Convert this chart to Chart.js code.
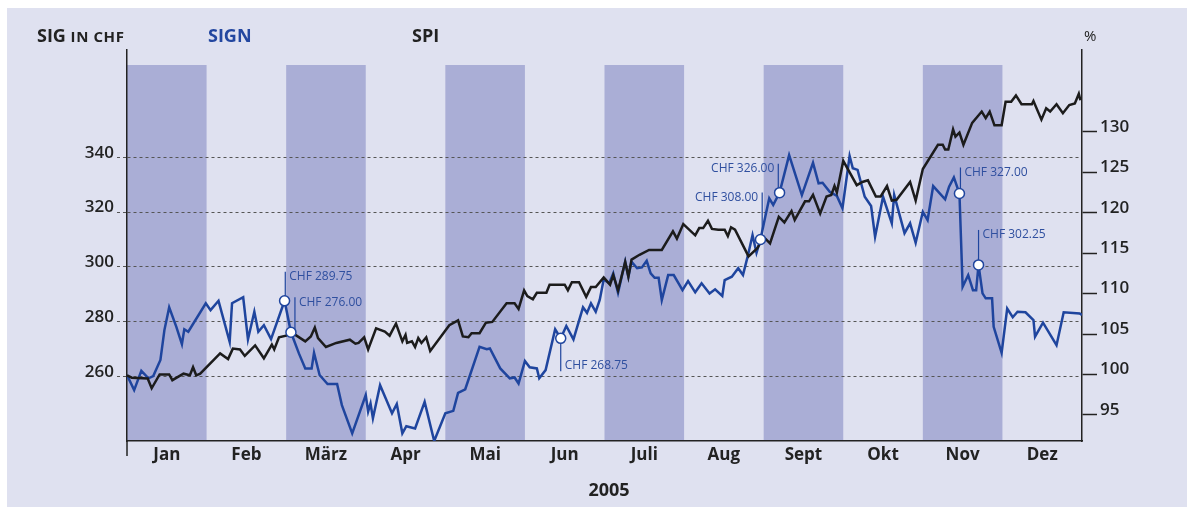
<!DOCTYPE html>
<html>
<head>
<meta charset="utf-8">
<script src="https://cdn.jsdelivr.net/npm/chart.js@4"></script>
<style>
  html, body { margin: 0; padding: 0; background: #fff; }
  #wrap { position: relative; width: 1187px; height: 507px; }
  #chart { position: absolute; left: 0; top: 0; }
  .lbl { position: absolute; font-family: "Open Sans", sans-serif; font-weight: 700; color: #222; white-space: nowrap; line-height: 1; }
</style>
</head>
<body>
<div id="wrap">
  <canvas id="chart" width="1187" height="507"></canvas>
  <div class="lbl" style="left:37px; top:26px; font-size:18px;">SIG <span style="font-size:15px; letter-spacing:0.6px">IN CHF</span></div>
  <div class="lbl" style="left:208px; top:26px; font-size:18px; color:#2347a0;">SIGN</div>
  <div class="lbl" style="left:412px; top:26px; font-size:18px;">SPI</div>
  <div class="lbl" style="left:1084px; top:28px; font-size:15px; font-weight:400;">%</div>
  <div class="lbl" style="left:609px; top:480px; font-size:18px; transform:translateX(-50%);">2005</div>
</div>
<script>
// months on the x axis (value = month index, label centred in the month)
const months = ["Jan", "Feb", "März", "Apr", "Mai", "Jun", "Juli", "Aug", "Sept", "Okt", "Nov", "Dez"];
const chfTicks = [260, 280, 300, 320, 340];
const pctTicks = [95, 100, 105, 110, 115, 120, 125, 130];

// SIGN share price in CHF (left axis), x in months since 1 Jan
const signMonth = [0.00, 0.09, 0.18, 0.27, 0.33, 0.42, 0.47, 0.53, 0.62, 0.69, 0.72, 0.77, 0.99, 1.05, 1.15, 1.29, 1.32, 1.46, 1.52, 1.60,
  1.65, 1.72, 1.81, 1.98, 2.06, 2.16, 2.24, 2.32, 2.35, 2.42, 2.52, 2.64, 2.70, 2.83, 3.00, 3.03, 3.06, 3.09, 3.18, 3.25,
  3.33, 3.39, 3.46, 3.51, 3.62, 3.74, 3.86, 4.00, 4.10, 4.16, 4.25, 4.43, 4.52, 4.56, 4.69, 4.81, 4.87, 4.92, 5.00, 5.06,
  5.15, 5.18, 5.26, 5.38, 5.45, 5.52, 5.61, 5.73, 5.78, 5.83, 5.89, 5.94, 5.99, 6.06, 6.11, 6.17, 6.26, 6.30, 6.34, 6.41,
  6.47, 6.53, 6.58, 6.63, 6.68, 6.72, 6.80, 6.87, 6.98, 7.05, 7.14, 7.22, 7.32, 7.39, 7.48, 7.51, 7.60, 7.68, 7.74, 7.80,
  7.86, 7.91, 7.96, 8.02, 8.07, 8.12, 8.20, 8.32, 8.48, 8.62, 8.69, 8.74, 8.83, 8.92, 8.99, 9.08, 9.12, 9.18, 9.27, 9.35,
  9.40, 9.50, 9.61, 9.64, 9.77, 9.84, 9.91, 10.00, 10.06, 10.13, 10.28, 10.33, 10.39, 10.46, 10.50, 10.57, 10.63, 10.67, 10.70, 10.75,
  10.79, 10.87, 10.89, 10.99, 11.06, 11.13, 11.19, 11.29, 11.39, 11.41, 11.51, 11.68, 11.77, 11.97, 12.00];
const signChf = [260.5, 255.0, 262.0, 259.3, 260.1, 266.0, 276.9, 285.2, 278.1, 271.8, 277.2, 276.3, 286.7, 284.2, 287.6, 272.6, 286.7, 288.9, 273.5, 283.6,
  276.3, 278.7, 273.6, 287.6, 276.1, 268.4, 262.9, 262.9, 268.6, 260.5, 257.2, 257.2, 249.5, 239.2, 253.2, 247.1, 250.1, 244.7, 256.8, 252.0,
  246.5, 249.9, 239.2, 241.8, 241.0, 250.7, 236.4, 246.5, 247.4, 254.0, 255.3, 270.8, 269.9, 270.2, 262.9, 259.3, 259.6, 257.4, 265.6, 263.3,
  262.9, 259.3, 262.3, 277.2, 273.9, 278.4, 273.5, 285.2, 283.2, 286.7, 283.6, 287.9, 295.4, 294.0, 297.6, 290.5, 301.9, 296.4, 301.9, 299.5,
  299.8, 302.2, 297.6, 296.0, 296.0, 287.9, 297.0, 297.0, 291.5, 294.8, 290.7, 294.0, 290.3, 291.8, 289.4, 295.2, 296.4, 299.5, 297.0, 303.9,
  311.6, 305.1, 310.0, 318.3, 325.0, 322.6, 327.1, 340.8, 326.2, 338.0, 330.5, 330.7, 327.4, 325.9, 321.4, 340.5, 336.0, 335.4, 325.6, 322.2,
  311.0, 325.6, 315.9, 326.3, 312.3, 315.9, 308.8, 320.1, 317.1, 329.5, 324.7, 329.3, 332.7, 326.8, 292.7, 297.0, 291.5, 291.5, 300.7, 290.3,
  288.5, 288.5, 278.1, 268.6, 284.8, 281.6, 283.6, 283.4, 280.6, 274.5, 279.6, 271.4, 283.4, 283.0, 282.4];

// SPI index in % (right axis)
const spiMonth = [0.00, 0.06, 0.26, 0.31, 0.41, 0.53, 0.57, 0.71, 0.79, 0.83, 0.87, 0.92, 1.17, 1.27, 1.33, 1.42, 1.48, 1.61, 1.72, 1.82,
  1.85, 1.91, 2.00, 2.05, 2.13, 2.24, 2.31, 2.36, 2.40, 2.50, 2.63, 2.80, 2.87, 2.91, 2.98, 3.03, 3.13, 3.24, 3.30, 3.38,
  3.46, 3.50, 3.52, 3.58, 3.62, 3.66, 3.70, 3.76, 3.81, 4.05, 4.16, 4.22, 4.29, 4.33, 4.43, 4.51, 4.59, 4.77, 4.87, 4.92,
  4.99, 5.03, 5.10, 5.15, 5.27, 5.31, 5.50, 5.54, 5.59, 5.68, 5.77, 5.83, 5.89, 5.99, 6.07, 6.11, 6.17, 6.26, 6.30, 6.34,
  6.44, 6.56, 6.72, 6.86, 6.91, 6.99, 7.14, 7.19, 7.24, 7.30, 7.35, 7.43, 7.51, 7.55, 7.59, 7.64, 7.81, 7.92, 8.00, 8.08,
  8.19, 8.26, 8.35, 8.39, 8.52, 8.57, 8.62, 8.71, 8.79, 8.85, 8.89, 8.92, 9.00, 9.17, 9.24, 9.31, 9.41, 9.47, 9.55, 9.61,
  9.67, 9.84, 9.91, 10.00, 10.19, 10.25, 10.28, 10.32, 10.38, 10.41, 10.46, 10.51, 10.62, 10.74, 10.79, 10.84, 10.90, 10.99, 11.04, 11.11,
  11.17, 11.24, 11.37, 11.39, 11.49, 11.55, 11.60, 11.68, 11.76, 11.84, 11.91, 11.96, 11.98];
const spiPct = [99.9, 99.6, 99.5, 98.3, 100.0, 100.0, 99.3, 100.1, 99.9, 100.9, 99.9, 100.1, 102.6, 101.9, 103.2, 103.1, 102.3, 103.6, 102.0, 103.7,
  103.1, 104.6, 104.8, 105.3, 104.8, 104.1, 104.7, 105.8, 104.5, 103.4, 103.9, 104.3, 103.8, 103.9, 104.6, 103.1, 105.7, 105.3, 104.8, 106.3,
  104.1, 104.9, 103.9, 104.1, 103.4, 104.5, 103.9, 104.6, 102.9, 106.1, 106.7, 104.7, 104.6, 105.1, 105.1, 106.4, 106.5, 108.8, 108.8, 108.1,
  110.4, 109.7, 109.3, 110.1, 110.1, 111.1, 111.1, 110.4, 111.4, 111.4, 109.6, 110.8, 110.8, 112.0, 111.1, 112.3, 110.4, 113.9, 112.1, 114.2,
  114.8, 115.4, 115.4, 117.7, 116.8, 118.6, 117.2, 118.1, 118.1, 119.0, 118.0, 117.9, 117.9, 117.1, 118.2, 117.9, 114.6, 115.6, 117.0, 116.2,
  119.5, 118.8, 120.2, 119.1, 121.4, 121.4, 122.2, 119.9, 122.0, 122.2, 123.3, 122.5, 126.4, 123.4, 123.8, 124.0, 122.0, 122.0, 123.3, 121.5,
  121.6, 123.8, 121.5, 125.4, 128.4, 128.4, 127.8, 127.8, 130.3, 129.4, 129.9, 128.4, 131.1, 132.5, 131.7, 132.5, 130.8, 130.8, 133.7, 133.7,
  134.5, 133.4, 133.4, 133.8, 131.5, 132.9, 132.5, 133.4, 132.3, 133.3, 133.5, 134.7, 133.9];

// price callouts on the SIGN line
const noteIndex = [23, 24, 64, 102, 106, 133, 138];
const noteText = ["CHF 289.75", "CHF 276.00", "CHF 268.75", "CHF 308.00", "CHF 326.00", "CHF 327.00", "CHF 302.25"];

const BLUE = "#1f459e";
const INK = "#222";
const FONT = '"Open Sans", sans-serif';
Chart.defaults.font.family = FONT;

// leader offsets / text side for each callout (drawing style only)
const noteLayout = [
  { dx: 0.7, len: -29, align: "left" },
  { dx: 4, len: -35, align: "left" },
  { dx: 0, len: 33, align: "left" },
  { dx: 1.7, len: -47, align: "right" },
  { dx: -1.3, len: -29, align: "right" },
  { dx: 1, len: -26, align: "left" },
  { dx: 0, len: -35, align: "left" }
];

const backdrop = {
  id: "backdrop",
  beforeDraw(chart) {
    const { ctx, chartArea: a, scales: { x } } = chart;
    ctx.save();
    ctx.fillStyle = "#dfe1f0";
    ctx.fillRect(7, 8, chart.width - 7, chart.height - 8);
    // alternate month shading
    ctx.fillStyle = "#aaaed6";
    for (let i = 0; i < months.length; i += 2) {
      const x0 = x.getPixelForValue(i), x1 = x.getPixelForValue(i + 1);
      ctx.fillRect(x0, a.top + 15, x1 - x0, a.bottom - a.top - 15);
    }
    ctx.restore();
  },
  afterDraw(chart) {
    const { ctx, chartArea: a } = chart;
    ctx.save();
    ctx.strokeStyle = INK;
    ctx.lineWidth = 1.5;
    ctx.beginPath();
    ctx.moveTo(a.left, a.bottom);
    ctx.lineTo(a.left, a.bottom + 15);
    ctx.stroke();
    ctx.restore();
  }
};

const callouts = {
  id: "callouts",
  afterDatasetsDraw(chart) {
    const { ctx } = chart;
    const meta = chart.getDatasetMeta(1);
    ctx.save();
    ctx.font = "12px " + FONT;
    ctx.textBaseline = "middle";
    noteIndex.forEach((idx, k) => {
      const p = meta.data[idx];
      const lay = noteLayout[k];
      const lx = p.x + lay.dx, ly = p.y + lay.len;
      ctx.strokeStyle = BLUE;
      ctx.lineWidth = 1.2;
      ctx.beginPath();
      ctx.moveTo(lx, p.y);
      ctx.lineTo(lx, ly);
      ctx.stroke();
      ctx.beginPath();
      ctx.arc(p.x, p.y, 5, 0, Math.PI * 2);
      ctx.fillStyle = "#fff";
      ctx.fill();
      ctx.lineWidth = 1.5;
      ctx.stroke();
      ctx.fillStyle = "#2f4f9f";
      ctx.textAlign = lay.align;
      const tx = lay.align === "left" ? lx + 4 : lx - 4;
      const ty = lay.len < 0 ? ly + 5 : ly - 6;
      ctx.fillText(noteText[k], tx, ty);
    });
    ctx.restore();
  }
};

new Chart(document.getElementById("chart"), {
  type: "line",
  data: {
    datasets: [
      {
        label: "SPI",
        data: spiMonth.map((m, i) => ({ x: m, y: spiPct[i] })),
        yAxisID: "yR",
        borderColor: "#1c1c1c",
        borderWidth: 2.5,
        pointRadius: 0,
        tension: 0
      },
      {
        label: "SIGN",
        data: signMonth.map((m, i) => ({ x: m, y: signChf[i] })),
        yAxisID: "yL",
        borderColor: BLUE,
        borderWidth: 2.5,
        pointRadius: 0,
        tension: 0
      }
    ]
  },
  options: {
    responsive: false,
    animation: false,
    layout: { padding: { top: 50, left: 0, right: 0, bottom: 0 } },
    plugins: { legend: { display: false }, tooltip: { enabled: false } },
    scales: {
      x: {
        type: "linear",
        min: 0,
        max: 12,
        afterBuildTicks: s => { s.ticks = months.map((m, i) => ({ value: i + 0.5 })); },
        afterFit: s => { s.height = 66; },
        ticks: {
          callback: (v, i) => months[i],
          autoSkip: false,
          maxRotation: 0,
          padding: 4,
          color: INK,
          font: { size: 17, weight: "bold" }
        },
        grid: { display: false, drawTicks: false },
        border: { display: true, color: INK, width: 1.5 }
      },
      yL: {
        position: "left",
        min: 236.4,
        max: 379.2,
        afterBuildTicks: s => { s.ticks = chfTicks.map(v => ({ value: v })); },
        afterFit: s => { s.width = 127; },
        ticks: {
          callback: v => [String(v), ""],
          padding: 3,
          color: INK,
          font: { size: 17, weight: "600", lineHeight: 0.53 }
        },
        grid: { color: "#555", lineWidth: 1, tickLength: 10, tickColor: "#555", tickBorderDash: [3, 3] },
        border: { display: true, color: INK, width: 1.5, dash: [3, 3] }
      },
      yR: {
        position: "right",
        min: 91.78,
        max: 140.11,
        afterBuildTicks: s => { s.ticks = pctTicks.map(v => ({ value: v })); },
        afterFit: s => { s.width = 105; },
        ticks: {
          callback: v => [String(v), ""],
          padding: 3,
          color: INK,
          font: { size: 17, weight: "600", lineHeight: 0.59 }
        },
        grid: { drawOnChartArea: false, tickLength: 15, tickColor: INK, tickWidth: 1.5 },
        border: { display: true, color: INK, width: 1.5 }
      }
    }
  },
  plugins: [backdrop, callouts]
});
</script>
</body>
</html>
